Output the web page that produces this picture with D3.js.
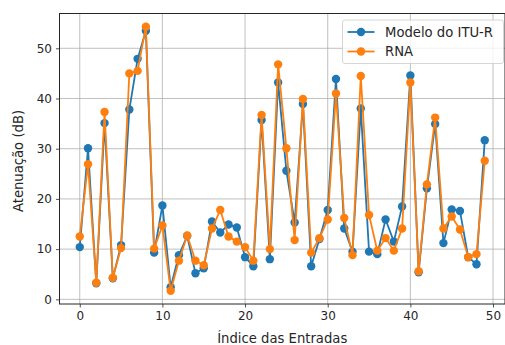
<!DOCTYPE html>
<html>
<head>
<meta charset="utf-8">
<script src="https://cdn.jsdelivr.net/npm/d3@7"></script>
<style>
  body { margin: 0; background: #fff; }
  text { font-family: "DejaVu Sans", sans-serif; fill: #262626; }
</style>
</head>
<body>
<div id="chart"></div>
<script>
// valores
const indices = d3.range(50);
const ituValues = [10.4, 30.1, 3.2, 35.1, 4.2, 10.8, 37.8, 47.9, 53.5, 9.3,
                   18.7, 2.4, 8.8, 12.6, 5.2, 6.2, 15.5, 13.3, 14.9, 14.3,
                   8.4, 6.6, 35.7, 8.0, 43.2, 25.6, 15.3, 38.9, 6.6, 12.0,
                   17.8, 43.9, 14.1, 9.5, 38.0, 9.5, 9.0, 15.9, 11.5, 18.5,
                   44.6, 5.4, 22.1, 34.9, 11.2, 17.9, 17.6, 8.4, 7.0, 31.7];
const rnaValues = [12.5, 26.9, 3.3, 37.3, 4.3, 10.2, 45.0, 45.5, 54.3, 10.1,
                   14.7, 1.7, 7.7, 12.7, 7.7, 6.8, 14.1, 17.8, 12.5, 11.5,
                   10.4, 7.7, 36.7, 10.0, 46.8, 30.1, 11.8, 39.9, 9.3, 12.2,
                   15.9, 41.0, 16.2, 8.8, 44.5, 16.8, 9.7, 12.2, 9.7, 14.1,
                   43.2, 5.6, 22.9, 36.2, 14.1, 16.5, 13.9, 8.4, 9.0, 27.6];
const xTicks = [0, 10, 20, 30, 40, 50];
const yTicks = [0, 10, 20, 30, 40, 50];
const seriesNames = ["Modelo do ITU-R", "RNA"];
const colors = ["#1f77b4", "#ff7f0e"];

const W = 505, H = 345;
const margin = {top: 13.5, right: 0, bottom: 41, left: 59.5};
const width = W - margin.left - margin.right,
      height = H - margin.top - margin.bottom;

const svg = d3.select("#chart")
              .append("svg")
              .attr("width", W)
              .attr("height", H);
const g = svg.append("g")
             .attr("transform", `translate(${margin.left},${margin.top})`);

const xScale = d3.scaleLinear().domain([-2.45, 51.45]).range([0, width]);
const yScale = d3.scaleLinear().domain([-0.93, 56.93]).range([height, 0]);

// grade
g.append("g").selectAll("line")
 .data(xTicks).join("line")
 .attr("x1", d => xScale(d)).attr("x2", d => xScale(d))
 .attr("y1", 0).attr("y2", height)
 .attr("stroke", "#b0b0b0").attr("stroke-width", 0.8);
g.append("g").selectAll("line")
 .data(yTicks).join("line")
 .attr("x1", 0).attr("x2", width)
 .attr("y1", d => yScale(d)).attr("y2", d => yScale(d))
 .attr("stroke", "#b0b0b0").attr("stroke-width", 0.8);

// eixos
const xAxis = d3.axisBottom(xScale).tickValues(xTicks).tickSize(3.5).tickPadding(4);
const yAxis = d3.axisLeft(yScale).tickValues(yTicks).tickSize(3.5).tickPadding(4);
const drawX = g.append("g").attr("transform", `translate(0,${height})`).call(xAxis);
const drawY = g.append("g").call(yAxis);
[drawX, drawY].forEach(a => {
  a.select(".domain").remove();
  a.selectAll("line").attr("stroke", "#262626").attr("stroke-width", 0.8);
  a.selectAll("text").style("font-size", "12px").attr("fill", "#262626");
});

// moldura
g.append("rect")
 .attr("width", width).attr("height", height)
 .attr("fill", "none").attr("stroke", "#262626").attr("stroke-width", 1);

// series
const line = d3.line().x((d, i) => xScale(indices[i])).y(d => yScale(d));
[ituValues, rnaValues].forEach((vals, k) => {
  const s = g.append("g");
  s.append("path").datum(vals)
   .attr("d", line)
   .attr("fill", "none")
   .attr("stroke", colors[k])
   .attr("stroke-width", 1.8);
  s.selectAll("circle").data(vals).join("circle")
   .attr("cx", (d, i) => xScale(indices[i]))
   .attr("cy", d => yScale(d))
   .attr("r", 4.2)
   .attr("fill", colors[k]);
});

// rotulos
svg.append("text")
   .attr("x", margin.left + width / 2).attr("y", 343)
   .attr("text-anchor", "middle")
   .style("font-size", "13.2px")
   .text("Índice das Entradas");
svg.append("text")
   .attr("transform", `translate(23,161) rotate(-90)`)
   .attr("text-anchor", "middle")
   .style("font-size", "13.2px")
   .text("Atenuação (dB)");

// legenda
const leg = svg.append("g").attr("transform", "translate(342.5,20)");
leg.append("rect")
   .attr("width", 161).attr("height", 43.5).attr("rx", 2.5)
   .attr("fill", "#fff").attr("fill-opacity", 0.8)
   .attr("stroke", "#cccccc").attr("stroke-width", 0.8);
seriesNames.forEach((name, k) => {
  const y = 12 + k * 19.5;
  leg.append("line")
     .attr("x1", 5).attr("x2", 32).attr("y1", y).attr("y2", y)
     .attr("stroke", colors[k]).attr("stroke-width", 1.8);
  leg.append("circle").attr("cx", 18.5).attr("cy", y).attr("r", 4.2).attr("fill", colors[k]);
  leg.append("text")
     .attr("x", 42.5).attr("y", y + 4.7)
     .style("font-size", "13.2px")
     .text(name);
});
</script>
</body>
</html>
